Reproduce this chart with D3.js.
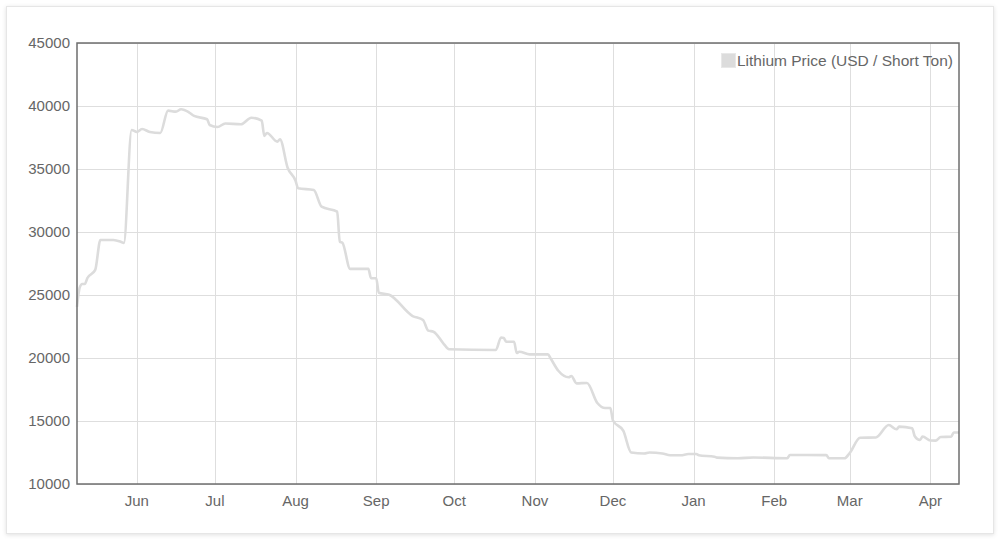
<!doctype html>
<html>
<head>
    <meta charset="UTF-8">
    <title>Lithium Price</title>
    <script src="https://d3js.org/d3.v7.min.js"></script>
    <style>
        body { margin: 0; background: #fff; font-family: "Liberation Sans", Arial, sans-serif; }
    </style>
</head>
<body>
    <script>
        // price series (USD / short ton)
        var dates = [
            "2023-05-09","2023-05-10","2023-05-11","2023-05-12","2023-05-13","2023-05-16","2023-05-18","2023-05-23","2023-05-26","2023-05-27","2023-05-30",
            "2023-06-01","2023-06-03","2023-06-06","2023-06-10","2023-06-13","2023-06-16","2023-06-18","2023-06-21","2023-06-23","2023-06-28","2023-06-29",
            "2023-07-02","2023-07-05","2023-07-11","2023-07-15","2023-07-19","2023-07-20","2023-07-21","2023-07-25","2023-07-26","2023-07-29",
            "2023-08-01","2023-08-02","2023-08-08","2023-08-11","2023-08-17","2023-08-18","2023-08-19","2023-08-22","2023-08-29","2023-08-30",
            "2023-09-01","2023-09-02","2023-09-06","2023-09-15","2023-09-19","2023-09-21","2023-09-23","2023-09-27","2023-09-29",
            "2023-10-17","2023-10-19","2023-10-20","2023-10-21","2023-10-24","2023-10-25","2023-10-26","2023-10-30",
            "2023-11-06","2023-11-07","2023-11-10","2023-11-14","2023-11-15","2023-11-17","2023-11-21","2023-11-25","2023-11-28","2023-11-30",
            "2023-12-01","2023-12-05","2023-12-08","2023-12-13","2023-12-15","2023-12-20","2023-12-23","2023-12-27","2023-12-30",
            "2024-01-02","2024-01-03","2024-01-09","2024-01-10","2024-01-18","2024-01-24",
            "2024-02-06","2024-02-07","2024-02-21","2024-02-22","2024-02-28",
            "2024-03-01","2024-03-05","2024-03-11","2024-03-16","2024-03-19","2024-03-20","2024-03-25","2024-03-26","2024-03-28","2024-03-29",
            "2024-04-01","2024-04-03","2024-04-05","2024-04-09","2024-04-10","2024-04-12"
        ];
        var prices = [
            24050,25560,25870,25870,26350,26990,29370,29370,29210,29130,38100,
            37940,38180,37940,37860,39630,39550,39740,39500,39210,38950,38490,
            38330,38610,38550,39070,38830,37620,37860,37170,37360,35080,
            34070,33470,33330,32010,31610,29230,29150,27070,27070,26330,
            26330,25180,25020,23330,23020,22170,22090,21110,20690,
            20640,21630,21590,21290,21290,20400,20500,20290,
            20290,19980,18990,18470,18570,17990,18020,16430,16030,16030,
            15040,14210,12500,12420,12500,12420,12280,12280,12380,
            12380,12280,12170,12090,12040,12100,
            12040,12300,12290,12040,12040,
            12460,13670,13690,14680,14340,14550,14420,13790,13490,13770,
            13450,13440,13730,13750,14090,14090
        ];
        var yTicks = [10000, 15000, 20000, 25000, 30000, 35000, 40000, 45000];
        var seriesName = "Lithium Price (USD / Short Ton)";

        var w = 1000, h = 540;
        var plotLeft = 77, plotRight = 959, plotTop = 43, plotBottom = 484;
        var parse = d3.timeParse("%Y-%m-%d");
        var points = dates.map(function(d, i){ return { date: parse(d), value: prices[i] }; });

        var svg = d3.select("body").append("svg")
            .attr("width", w).attr("height", h);

        var defs = svg.append("defs");
        var f = defs.append("filter").attr("id", "shadow")
            .attr("x", "-5%").attr("y", "-5%").attr("width", "110%").attr("height", "110%");
        f.append("feDropShadow").attr("dx", 0).attr("dy", 1).attr("stdDeviation", 2)
            .attr("flood-color", "#000").attr("flood-opacity", 0.12);

        // card
        svg.append("rect")
            .attr("x", 6.5).attr("y", 6.5).attr("width", 987).attr("height", 527)
            .attr("fill", "#fff").attr("stroke", "#e6e6e6")
            .attr("filter", "url(#shadow)");

        var x = d3.scaleTime()
            .domain(d3.extent(points, function(d){ return d.date; }))
            .range([plotLeft, plotRight]);
        var y = d3.scaleLinear().domain([10000, 45000]).range([plotBottom, plotTop]);

        var months = d3.timeMonth.range(d3.timeMonth.ceil(x.domain()[0]), x.domain()[1]);

        // grid
        svg.append("g").selectAll("line").data(yTicks).enter().append("line")
            .attr("x1", plotLeft).attr("x2", plotRight)
            .attr("y1", function(d){ return Math.round(y(d)) + 0.5; })
            .attr("y2", function(d){ return Math.round(y(d)) + 0.5; })
            .attr("stroke", "#dedede").attr("stroke-width", 1);
        svg.append("g").selectAll("line").data(months).enter().append("line")
            .attr("y1", plotTop).attr("y2", plotBottom)
            .attr("x1", function(d){ return Math.round(x(d)) + 0.5; })
            .attr("x2", function(d){ return Math.round(x(d)) + 0.5; })
            .attr("stroke", "#dedede").attr("stroke-width", 1);

        // line
        var line = d3.line()
            .x(function(d){ return x(d.date); })
            .y(function(d){ return y(d.value); })
            .curve(d3.curveMonotoneX);
        svg.append("path").datum(points)
            .attr("d", line)
            .attr("fill", "none")
            .attr("stroke", "#dcdcdc")
            .attr("stroke-width", 2.6)
            .attr("stroke-linejoin", "round");

        // frame
        svg.append("rect")
            .attr("x", plotLeft).attr("y", plotTop)
            .attr("width", plotRight - plotLeft).attr("height", plotBottom - plotTop)
            .attr("fill", "none").attr("stroke", "#6e6e6e").attr("stroke-width", 1.5);

        // y labels
        svg.append("g").selectAll("text").data(yTicks).enter().append("text")
            .attr("x", plotLeft - 7)
            .attr("y", function(d){ return y(d); })
            .attr("dy", "0.35em")
            .attr("text-anchor", "end")
            .attr("font-size", 15)
            .attr("fill", "#666")
            .text(function(d){ return d; });

        // x labels
        svg.append("g").selectAll("text").data(months).enter().append("text")
            .attr("x", function(d){ return x(d); })
            .attr("y", plotBottom + 22)
            .attr("text-anchor", "middle")
            .attr("font-size", 15)
            .attr("fill", "#666")
            .text(d3.timeFormat("%b"));

        // legend
        var lg = svg.append("g").attr("transform", "translate(721,53)");
        lg.append("rect").attr("x", 0.5).attr("y", 0.5).attr("width", 14).attr("height", 14)
            .attr("fill", "#dcdcdc").attr("stroke", "#e8e8e8").attr("stroke-width", 1);
        lg.append("text").attr("x", 16).attr("y", 12.5)
            .attr("font-size", 15.5).attr("fill", "#666")
            .text(seriesName);
    </script>
</body>
</html>
